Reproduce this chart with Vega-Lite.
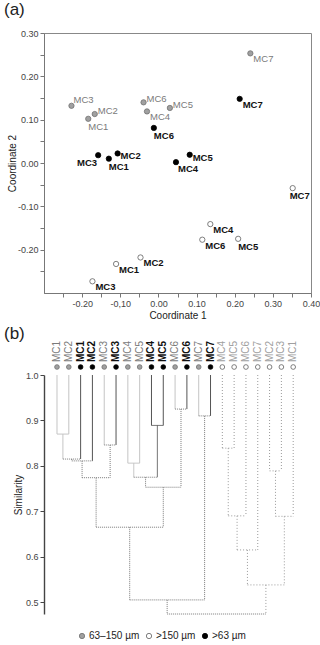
{
  "$schema": "https://vega.github.io/schema/vega-lite/v6.json",
  "padding": {"left": 3, "top": 0, "right": 0, "bottom": 0},
  "background": "white",
  "spacing": 3,
  "config": {
    "font": "Liberation Sans",
    "view": {"stroke": null},
    "axis": {
      "labelFont": "Liberation Sans", "labelFontSize": 9, "labelColor": "#444",
      "titleFont": "Liberation Sans", "titleFontSize": 10, "titleFontWeight": "normal", "titleColor": "#222",
      "domainColor": "#777", "tickColor": "#777", "tickSize": 4, "labelPadding": 2, "grid": false, "labelFlush": false
    }
  },
  "datasets": {
    "pcoa": [
      {"sample": "MC1", "fraction": "63–150 µm", "c1": -0.184, "c2": 0.102},
      {"sample": "MC2", "fraction": "63–150 µm", "c1": -0.167, "c2": 0.113},
      {"sample": "MC3", "fraction": "63–150 µm", "c1": -0.228, "c2": 0.132},
      {"sample": "MC4", "fraction": "63–150 µm", "c1": -0.030, "c2": 0.119},
      {"sample": "MC5", "fraction": "63–150 µm", "c1": 0.030, "c2": 0.127},
      {"sample": "MC6", "fraction": "63–150 µm", "c1": -0.039, "c2": 0.140},
      {"sample": "MC7", "fraction": "63–150 µm", "c1": 0.241, "c2": 0.253},
      {"sample": "MC1", "fraction": ">63 µm", "c1": -0.130, "c2": 0.010},
      {"sample": "MC2", "fraction": ">63 µm", "c1": -0.107, "c2": 0.022},
      {"sample": "MC3", "fraction": ">63 µm", "c1": -0.158, "c2": 0.018},
      {"sample": "MC4", "fraction": ">63 µm", "c1": 0.046, "c2": 0.002},
      {"sample": "MC5", "fraction": ">63 µm", "c1": 0.082, "c2": 0.019},
      {"sample": "MC6", "fraction": ">63 µm", "c1": -0.012, "c2": 0.081},
      {"sample": "MC7", "fraction": ">63 µm", "c1": 0.213, "c2": 0.148},
      {"sample": "MC1", "fraction": ">150 µm", "c1": -0.111, "c2": -0.233},
      {"sample": "MC2", "fraction": ">150 µm", "c1": -0.047, "c2": -0.218},
      {"sample": "MC3", "fraction": ">150 µm", "c1": -0.173, "c2": -0.273},
      {"sample": "MC4", "fraction": ">150 µm", "c1": 0.136, "c2": -0.141},
      {"sample": "MC5", "fraction": ">150 µm", "c1": 0.209, "c2": -0.175},
      {"sample": "MC6", "fraction": ">150 µm", "c1": 0.115, "c2": -0.177},
      {"sample": "MC7", "fraction": ">150 µm", "c1": 0.352, "c2": -0.058}
    ],
    "leaves": [
      {"sample": "MC1", "fraction": "63–150 µm", "pos": 0},
      {"sample": "MC2", "fraction": "63–150 µm", "pos": 1},
      {"sample": "MC1", "fraction": ">63 µm", "pos": 2},
      {"sample": "MC2", "fraction": ">63 µm", "pos": 3},
      {"sample": "MC3", "fraction": "63–150 µm", "pos": 4},
      {"sample": "MC3", "fraction": ">63 µm", "pos": 5},
      {"sample": "MC4", "fraction": "63–150 µm", "pos": 6},
      {"sample": "MC5", "fraction": "63–150 µm", "pos": 7},
      {"sample": "MC4", "fraction": ">63 µm", "pos": 8},
      {"sample": "MC5", "fraction": ">63 µm", "pos": 9},
      {"sample": "MC6", "fraction": "63–150 µm", "pos": 10},
      {"sample": "MC6", "fraction": ">63 µm", "pos": 11},
      {"sample": "MC7", "fraction": "63–150 µm", "pos": 12},
      {"sample": "MC7", "fraction": ">63 µm", "pos": 13},
      {"sample": "MC4", "fraction": ">150 µm", "pos": 14},
      {"sample": "MC5", "fraction": ">150 µm", "pos": 15},
      {"sample": "MC6", "fraction": ">150 µm", "pos": 16},
      {"sample": "MC7", "fraction": ">150 µm", "pos": 17},
      {"sample": "MC2", "fraction": ">150 µm", "pos": 18},
      {"sample": "MC3", "fraction": ">150 µm", "pos": 19},
      {"sample": "MC1", "fraction": ">150 µm", "pos": 20}
    ],
    "tree": [
      {"x1": 0, "x2": 0, "s1": 1, "s2": 0.870, "kind": "63–150 µm"},
      {"x1": 1, "x2": 1, "s1": 1, "s2": 0.870, "kind": "63–150 µm"},
      {"x1": 0, "x2": 1, "s1": 0.870, "s2": 0.870, "kind": "63–150 µm"},
      {"x1": 0.5, "x2": 0.5, "s1": 0.870, "s2": 0.815, "kind": "63–150 µm"},
      {"x1": 2, "x2": 2, "s1": 1, "s2": 0.815, "kind": ">63 µm"},
      {"x1": 0.5, "x2": 2, "s1": 0.815, "s2": 0.815, "kind": "mixed"},
      {"x1": 1.25, "x2": 1.25, "s1": 0.815, "s2": 0.811, "kind": "mixed"},
      {"x1": 3, "x2": 3, "s1": 1, "s2": 0.811, "kind": ">63 µm"},
      {"x1": 1.25, "x2": 3, "s1": 0.811, "s2": 0.811, "kind": "mixed"},
      {"x1": 4, "x2": 4, "s1": 1, "s2": 0.846, "kind": "63–150 µm"},
      {"x1": 5, "x2": 5, "s1": 1, "s2": 0.846, "kind": ">63 µm"},
      {"x1": 4, "x2": 5, "s1": 0.846, "s2": 0.846, "kind": "mixed"},
      {"x1": 2.125, "x2": 2.125, "s1": 0.811, "s2": 0.774, "kind": "mixed"},
      {"x1": 4.5, "x2": 4.5, "s1": 0.846, "s2": 0.774, "kind": "mixed"},
      {"x1": 2.125, "x2": 4.5, "s1": 0.774, "s2": 0.774, "kind": "mixed"},
      {"x1": 6, "x2": 6, "s1": 1, "s2": 0.806, "kind": "63–150 µm"},
      {"x1": 7, "x2": 7, "s1": 1, "s2": 0.806, "kind": "63–150 µm"},
      {"x1": 6, "x2": 7, "s1": 0.806, "s2": 0.806, "kind": "63–150 µm"},
      {"x1": 8, "x2": 8, "s1": 1, "s2": 0.889, "kind": ">63 µm"},
      {"x1": 9, "x2": 9, "s1": 1, "s2": 0.889, "kind": ">63 µm"},
      {"x1": 8, "x2": 9, "s1": 0.889, "s2": 0.889, "kind": ">63 µm"},
      {"x1": 6.5, "x2": 6.5, "s1": 0.806, "s2": 0.775, "kind": "63–150 µm"},
      {"x1": 8.5, "x2": 8.5, "s1": 0.889, "s2": 0.775, "kind": ">63 µm"},
      {"x1": 6.5, "x2": 8.5, "s1": 0.775, "s2": 0.775, "kind": "mixed"},
      {"x1": 10, "x2": 10, "s1": 1, "s2": 0.925, "kind": "63–150 µm"},
      {"x1": 11, "x2": 11, "s1": 1, "s2": 0.925, "kind": ">63 µm"},
      {"x1": 10, "x2": 11, "s1": 0.925, "s2": 0.925, "kind": "mixed"},
      {"x1": 7.5, "x2": 7.5, "s1": 0.775, "s2": 0.753, "kind": "mixed"},
      {"x1": 10.5, "x2": 10.5, "s1": 0.925, "s2": 0.753, "kind": "mixed"},
      {"x1": 7.5, "x2": 10.5, "s1": 0.753, "s2": 0.753, "kind": "mixed"},
      {"x1": 3.3125, "x2": 3.3125, "s1": 0.774, "s2": 0.665, "kind": "mixed"},
      {"x1": 9, "x2": 9, "s1": 0.753, "s2": 0.665, "kind": "mixed"},
      {"x1": 3.3125, "x2": 9, "s1": 0.665, "s2": 0.665, "kind": "mixed"},
      {"x1": 12, "x2": 12, "s1": 1, "s2": 0.910, "kind": "63–150 µm"},
      {"x1": 13, "x2": 13, "s1": 1, "s2": 0.910, "kind": ">63 µm"},
      {"x1": 12, "x2": 13, "s1": 0.910, "s2": 0.910, "kind": "mixed"},
      {"x1": 6.15625, "x2": 6.15625, "s1": 0.665, "s2": 0.505, "kind": "mixed"},
      {"x1": 12.5, "x2": 12.5, "s1": 0.910, "s2": 0.505, "kind": "mixed"},
      {"x1": 6.15625, "x2": 12.5, "s1": 0.505, "s2": 0.505, "kind": "mixed"},
      {"x1": 14, "x2": 14, "s1": 1, "s2": 0.839, "kind": ">150 µm"},
      {"x1": 15, "x2": 15, "s1": 1, "s2": 0.839, "kind": ">150 µm"},
      {"x1": 14, "x2": 15, "s1": 0.839, "s2": 0.839, "kind": ">150 µm"},
      {"x1": 14.5, "x2": 14.5, "s1": 0.839, "s2": 0.690, "kind": ">150 µm"},
      {"x1": 16, "x2": 16, "s1": 1, "s2": 0.690, "kind": ">150 µm"},
      {"x1": 14.5, "x2": 16, "s1": 0.690, "s2": 0.690, "kind": ">150 µm"},
      {"x1": 18, "x2": 18, "s1": 1, "s2": 0.789, "kind": ">150 µm"},
      {"x1": 19, "x2": 19, "s1": 1, "s2": 0.789, "kind": ">150 µm"},
      {"x1": 18, "x2": 19, "s1": 0.789, "s2": 0.789, "kind": ">150 µm"},
      {"x1": 18.5, "x2": 18.5, "s1": 0.789, "s2": 0.689, "kind": ">150 µm"},
      {"x1": 20, "x2": 20, "s1": 1, "s2": 0.689, "kind": ">150 µm"},
      {"x1": 18.5, "x2": 20, "s1": 0.689, "s2": 0.689, "kind": ">150 µm"},
      {"x1": 15.25, "x2": 15.25, "s1": 0.690, "s2": 0.615, "kind": ">150 µm"},
      {"x1": 17, "x2": 17, "s1": 1, "s2": 0.615, "kind": ">150 µm"},
      {"x1": 15.25, "x2": 17, "s1": 0.615, "s2": 0.615, "kind": ">150 µm"},
      {"x1": 16.125, "x2": 16.125, "s1": 0.615, "s2": 0.538, "kind": ">150 µm"},
      {"x1": 19.25, "x2": 19.25, "s1": 0.689, "s2": 0.538, "kind": ">150 µm"},
      {"x1": 16.125, "x2": 19.25, "s1": 0.538, "s2": 0.538, "kind": ">150 µm"},
      {"x1": 9.328, "x2": 9.328, "s1": 0.505, "s2": 0.474, "kind": "mixed"},
      {"x1": 17.6875, "x2": 17.6875, "s1": 0.538, "s2": 0.474, "kind": ">150 µm"},
      {"x1": 9.328, "x2": 17.6875, "s1": 0.474, "s2": 0.474, "kind": "mixed"}
    ]
  },
  "resolve": {"scale": {"x": "independent", "y": "independent", "color": "independent", "fill": "independent", "stroke": "independent", "strokeDash": "independent"}},
  "vconcat": [
    {
      "width": 267,
      "height": 260,
      "view": {"stroke": "#888"},
      "title": {"text": "(a)", "anchor": "start", "frame": "group", "dx": -40, "fontSize": 17, "fontWeight": "normal", "color": "#222", "offset": 10, "font": "Liberation Sans"},
      "data": {"name": "pcoa"},
      "encoding": {
        "x": {"field": "c1", "type": "quantitative", "scale": {"domain": [-0.3, 0.4], "nice": false, "zero": false},
          "axis": {"title": "Coordinate 1", "titlePadding": 2, "values": [-0.25, -0.2, -0.15, -0.1, -0.05, 0, 0.05, 0.1, 0.15, 0.2, 0.25, 0.3, 0.35, 0.4],
            "labelExpr": "abs(datum.value*10 - round(datum.value*10)) > 0.01 ? '' : (datum.value == -0.1 ? '-0,10' : (datum.value < 0 ? '-' : '') + format(abs(datum.value), '.2f'))"}},
        "y": {"field": "c2", "type": "quantitative", "scale": {"domain": [-0.3, 0.3], "nice": false, "zero": false},
          "axis": {"title": "Coordinate 2", "titlePadding": 0, "values": [-0.25, -0.2, -0.15, -0.1, -0.05, 0, 0.05, 0.1, 0.15, 0.2, 0.25, 0.3],
            "labelExpr": "abs(datum.value*10 - round(datum.value*10)) > 0.01 ? '' : (datum.value < 0 ? '-' : '') + format(abs(datum.value), '.2f')"}}
      },
      "layer": [
        {
          "mark": {"type": "circle", "size": 28, "strokeWidth": 0.8, "opacity": 1},
          "encoding": {
            "fill": {"field": "fraction", "type": "nominal", "scale": {"domain": ["63–150 µm", ">150 µm", ">63 µm"], "range": ["#a0a0a0", "#ffffff", "#000000"]}, "legend": null},
            "stroke": {"field": "fraction", "type": "nominal", "scale": {"domain": ["63–150 µm", ">150 µm", ">63 µm"], "range": ["#707070", "#606060", "#000000"]}, "legend": null}
          }
        },
        {
          "transform": [{"filter": "indexof(['63–150 µm|MC7','63–150 µm|MC4','>63 µm|MC7','>150 µm|MC4','>150 µm|MC6','>150 µm|MC2','>150 µm|MC1','>150 µm|MC3'], datum.fraction + '|' + datum.sample) >= 0"}],
          "mark": {"type": "text", "align": "left", "baseline": "middle", "dx": 3, "dy": 6, "fontSize": 9.5,
            "fontWeight": {"expr": "datum.fraction == '63–150 µm' ? 'normal' : 'bold'"},
            "fill": {"expr": "datum.fraction == '63–150 µm' ? '#7a7a7a' : '#111111'"}},
          "encoding": {"text": {"field": "sample"}}
        },
        {
          "transform": [{"filter": "datum.fraction == '>63 µm' && (datum.sample == 'MC2' || datum.sample == 'MC5')"}],
          "mark": {"type": "text", "align": "left", "baseline": "middle", "dx": 3, "dy": 3, "fontSize": 9.5, "fontWeight": "bold", "fill": "#111111"},
          "encoding": {"text": {"field": "sample"}}
        },
        {
          "transform": [{"filter": "datum.fraction == '>63 µm' && datum.sample == 'MC4'"}],
          "mark": {"type": "text", "align": "left", "baseline": "middle", "dx": 2, "dy": 7, "fontSize": 9.5, "fontWeight": "bold", "fill": "#111111"},
          "encoding": {"text": {"field": "sample"}}
        },
        {
          "transform": [{"filter": "indexof(['63–150 µm|MC2','63–150 µm|MC6','63–150 µm|MC5'], datum.fraction + '|' + datum.sample) >= 0"}],
          "mark": {"type": "text", "align": "left", "baseline": "middle", "dx": 3, "dy": -3, "fontSize": 9.5, "fill": "#7a7a7a"},
          "encoding": {"text": {"field": "sample"}}
        },
        {
          "transform": [{"filter": "datum.fraction == '63–150 µm' && datum.sample == 'MC3'"}],
          "mark": {"type": "text", "align": "left", "baseline": "middle", "dx": 2, "dy": -6, "fontSize": 9.5, "fill": "#7a7a7a"},
          "encoding": {"text": {"field": "sample"}}
        },
        {
          "transform": [{"filter": "indexof(['63–150 µm|MC1','>63 µm|MC1','>63 µm|MC6','>150 µm|MC5'], datum.fraction + '|' + datum.sample) >= 0"}],
          "mark": {"type": "text", "align": "left", "baseline": "middle", "dx": 0, "dy": 8, "fontSize": 9.5,
            "fontWeight": {"expr": "datum.fraction == '63–150 µm' ? 'normal' : 'bold'"},
            "fill": {"expr": "datum.fraction == '63–150 µm' ? '#7a7a7a' : '#111111'"}},
          "encoding": {"text": {"field": "sample"}}
        },
        {
          "transform": [{"filter": "datum.fraction == '>63 µm' && datum.sample == 'MC3'"}],
          "mark": {"type": "text", "align": "right", "baseline": "middle", "dx": -1, "dy": 8, "fontSize": 9.5, "fontWeight": "bold", "fill": "#111111"},
          "encoding": {"text": {"field": "sample"}}
        },
        {
          "transform": [{"filter": "datum.fraction == '>150 µm' && datum.sample == 'MC7'"}],
          "mark": {"type": "text", "align": "center", "baseline": "middle", "dx": 7, "dy": 8, "fontSize": 9.5, "fontWeight": "bold", "fill": "#111111"},
          "encoding": {"text": {"field": "sample"}}
        }
      ]
    },
    {
      "width": 261,
      "height": 239,
      "title": {"text": "(b)", "anchor": "start", "frame": "group", "dx": -40, "fontSize": 17, "fontWeight": "normal", "color": "#222", "offset": -2, "font": "Liberation Sans"},
      "layer": [
        {
          "data": {"name": "tree"},
          "mark": {"type": "rule", "strokeWidth": 1},
          "encoding": {
            "x": {"field": "x1", "type": "quantitative", "scale": {"domain": [-1.1, 21], "nice": false, "zero": false}, "axis": null},
            "x2": {"field": "x2"},
            "y": {"field": "s1", "type": "quantitative", "scale": {"domain": [0.474, 1.0], "nice": false, "zero": false},
              "axis": {"title": "Similarity", "values": [0.5, 0.6, 0.7, 0.8, 0.9, 1.0], "format": ".1f", "domainColor": "#444", "domainWidth": 1.4, "tickColor": "#444", "labelColor": "#444", "titlePadding": 2}},
            "y2": {"field": "s2"},
            "color": {"field": "kind", "type": "nominal", "scale": {"domain": ["63–150 µm", ">63 µm", "mixed", ">150 µm"], "range": ["#c4c4c4", "#555555", "#7a7a7a", "#9a9a9a"]}, "legend": null},
            "strokeDash": {"field": "kind", "type": "nominal", "scale": {"domain": ["63–150 µm", ">63 µm", "mixed", ">150 µm"], "range": [[1, 0], [1, 0], [1, 1], [1, 2]]}, "legend": null}
          }
        },
        {
          "data": {"name": "leaves"},
          "mark": {"type": "circle", "size": 22, "strokeWidth": 0.8, "opacity": 1, "yOffset": -8},
          "encoding": {
            "x": {"field": "pos", "type": "quantitative", "axis": null},
            "y": {"datum": 1, "type": "quantitative"},
            "fill": {"field": "fraction", "type": "nominal", "scale": {"domain": ["63–150 µm", ">150 µm", ">63 µm"], "range": ["#a0a0a0", "#ffffff", "#000000"]},
              "legend": {"orient": "none", "legendX": 33, "legendY": 256, "direction": "horizontal", "title": null, "labelFontSize": 10, "labelFont": "Liberation Sans", "labelColor": "#222", "symbolSize": 28, "symbolStrokeWidth": 0.8, "columnPadding": 4, "labelOffset": 2}},
            "stroke": {"field": "fraction", "type": "nominal", "scale": {"domain": ["63–150 µm", ">150 µm", ">63 µm"], "range": ["#707070", "#606060", "#000000"]},
              "legend": {"orient": "none", "legendX": 33, "legendY": 256, "direction": "horizontal", "title": null, "labelFontSize": 10, "labelFont": "Liberation Sans", "labelColor": "#222", "symbolSize": 28, "symbolStrokeWidth": 0.8, "columnPadding": 4, "labelOffset": 2}}
          }
        },
        {
          "data": {"name": "leaves"},
          "transform": [{"filter": "datum.fraction == '63–150 µm'"}],
          "mark": {"type": "text", "angle": 270, "align": "left", "baseline": "middle", "yOffset": -13, "fontSize": 10, "fill": "#7a7a7a"},
          "encoding": {"x": {"field": "pos", "type": "quantitative", "axis": null}, "y": {"datum": 1, "type": "quantitative"}, "text": {"field": "sample"}}
        },
        {
          "data": {"name": "leaves"},
          "transform": [{"filter": "datum.fraction == '>63 µm'"}],
          "mark": {"type": "text", "angle": 270, "align": "left", "baseline": "middle", "yOffset": -13, "fontSize": 10, "fontWeight": "bold", "fill": "#111111"},
          "encoding": {"x": {"field": "pos", "type": "quantitative", "axis": null}, "y": {"datum": 1, "type": "quantitative"}, "text": {"field": "sample"}}
        },
        {
          "data": {"name": "leaves"},
          "transform": [{"filter": "datum.fraction == '>150 µm'"}],
          "mark": {"type": "text", "angle": 270, "align": "left", "baseline": "middle", "yOffset": -13, "fontSize": 10, "fill": "#a0a0a0"},
          "encoding": {"x": {"field": "pos", "type": "quantitative", "axis": null}, "y": {"datum": 1, "type": "quantitative"}, "text": {"field": "sample"}}
        }
      ]
    }
  ]
}
